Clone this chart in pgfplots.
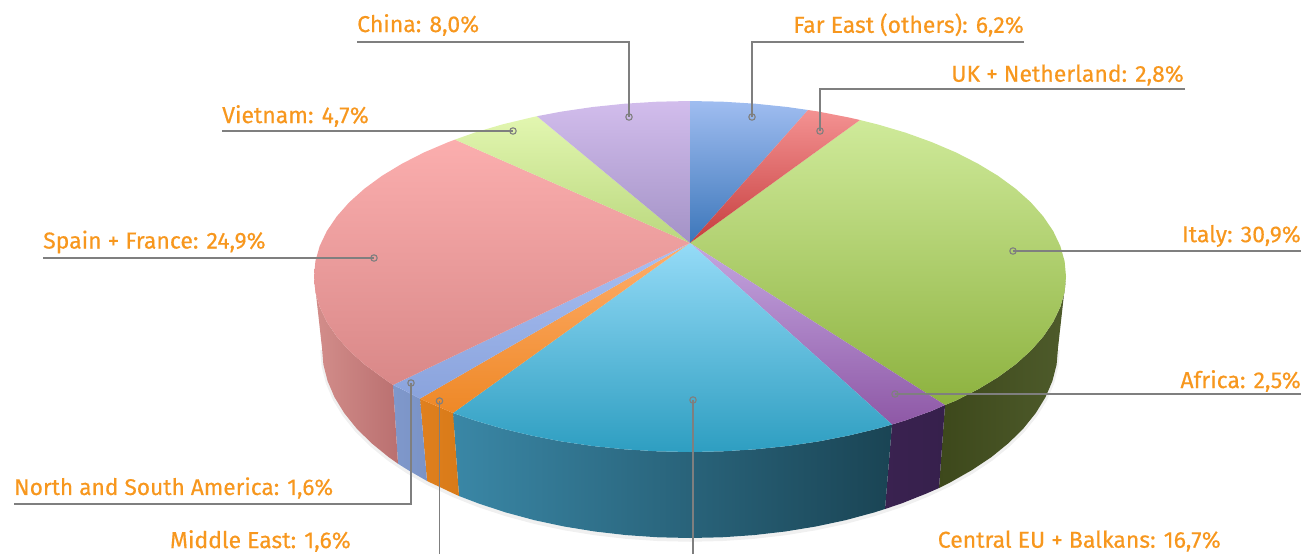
\documentclass[border=0pt]{standalone}
\usepackage{fontspec}
\setmainfont[FakeBold=0.4]{Fira Sans}
\usepackage{pgfplots}
\pgfplotsset{compat=1.18}
\definecolor{labelc}{HTML}{F7971E}
\definecolor{leadc}{HTML}{7F7F7F}
% top faces: a = upper, b = lower
\definecolor{italya}{HTML}{CFEA9A}\definecolor{italyb}{HTML}{8DB23F}
\definecolor{africaa}{HTML}{C4A6E0}\definecolor{africab}{HTML}{8E58A6}
\definecolor{centrala}{HTML}{95DBF7}\definecolor{centralb}{HTML}{2E9EC1}
\definecolor{easta}{HTML}{FFAE6C}\definecolor{eastb}{HTML}{EE8826}
\definecolor{amera}{HTML}{A8BFF2}\definecolor{amerb}{HTML}{8AA3DC}
\definecolor{spaina}{HTML}{FBAEAE}\definecolor{spainb}{HTML}{D98888}
\definecolor{vieta}{HTML}{E2F6B0}\definecolor{vietb}{HTML}{BAD87E}
\definecolor{chinaa}{HTML}{D2BDEC}\definecolor{chinab}{HTML}{A392C6}
\definecolor{fara}{HTML}{9FBDF0}\definecolor{farb}{HTML}{3C76BA}
\definecolor{uka}{HTML}{F49292}\definecolor{ukb}{HTML}{C63E3E}
% side faces
\definecolor{italyl}{HTML}{3D481B}\definecolor{italyr}{HTML}{4E5B2B}
\definecolor{africal}{HTML}{3A2250}\definecolor{africar}{HTML}{36204C}
\definecolor{centrall}{HTML}{3A87A6}\definecolor{centralm}{HTML}{236680}\definecolor{centralr}{HTML}{1A4454}
\definecolor{spainl}{HTML}{D38E8B}\definecolor{spainr}{HTML}{BA7070}
\definecolor{eastl}{HTML}{E0801E}\definecolor{eastr}{HTML}{D87A18}
\definecolor{amerl}{HTML}{7F98CB}\definecolor{amerr}{HTML}{7B93C6}
\tikzset{
    lab/.style={text=labelc, inner sep=0pt, font=\fontsize{23}{26}\selectfont},
}
\pgfplotsset{
    lead/.style={leadc, line width=1.2pt, no markers},
    dot/.style={only marks, mark=o, mark size=3.2pt, mark options={draw=leadc, line width=1.1pt}},
}
\begin{document}
\begin{tikzpicture}
\begin{axis}[
    width=1304pt, height=554pt, scale only axis,
    xmin=0, xmax=1304, ymin=0, ymax=554,
    y dir=reverse,
    hide axis, clip=false,
]
% keeps the page as large as the axis
\path (axis cs:0,0) rectangle (axis cs:1304,554);
% soft shadow under the rim
\addplot[black, opacity=0.06, line width=3.5pt, no markers] coordinates {
    (322,350) (323.4,366.6) (327.6,383) (334.5,399.2) (344.2,415) (356.5,430.3) (371.3,445) (388.5,459) (408.1,472.1)
    (427,483) (453.5,495.5) (478.9,505.6) (506,514.5) (534.5,522.2) (564.1,528.5) (594.8,533.5) (626.1,537.1) (657.9,539.3)
    (690,540) (722.1,539.3) (753.9,537.1) (785.2,533.5) (815.9,528.5) (845.5,522.2) (874,514.5) (901.1,505.6) (926.5,495.5)
    (950.2,484.4) (971.9,472.1) (991.5,459) (1008.7,445) (1023.5,430.3) (1035.8,415) (1045.5,399.2) (1052.4,383) (1056.6,366.6) (1058,350)
};
% side faces
\addplot[draw=none, left color=italyl, right color=italyr] coordinates {
    (1066,276.5) (1064.6,291.8) (1060.3,307) (1053.2,321.9) (1043.3,336.5) (1030.8,350.7) (1015.6,364.3) (998,377.2) (978,389.3) (955.9,400.6) (945,405)
    (939,488) (950.2,482.4) (971.9,470.1) (991.5,457) (1008.7,443) (1023.5,428.3) (1035.8,413) (1045.5,397.2) (1052.4,381) (1056.6,364.6) (1058,348)
} --cycle;
\addplot[draw=none, left color=africal, right color=africar] coordinates {
    (945,405) (931.7,410.9) (905.7,420.3) (892,424.5)
    (885,509) (901.1,503.6) (926.5,493.5) (939,488)
} --cycle;
\addplot[draw=none, left color=centrall, middle color=centralm, right color=centralr] coordinates {
    (892,424.5) (878,428.5) (848.9,435.5) (818.6,441.4) (787.3,446) (755.3,449.3) (722.8,451.3) (690,452) (657.2,451.3) (624.7,449.3) (592.7,446) (561.4,441.4) (531.1,435.5) (502,428.5) (474.3,420.3) (453,413)
    (459,496) (478.9,503.6) (506,512.5) (534.5,520.2) (564.1,526.5) (594.8,531.5) (626.1,535.1) (657.9,537.3) (690,538) (722.1,537.3) (753.9,535.1) (785.2,531.5) (815.9,526.5) (845.5,520.2) (874,512.5) (885,509)
} --cycle;
\addplot[draw=none, left color=eastl, right color=eastr] coordinates {
    (453,413) (448.3,411) (424.1,400.6) (420,398.6)
    (427,481) (453.5,493.5) (459,496)
} --cycle;
\addplot[draw=none, left color=amerl, right color=amerr] coordinates {
    (420,398.6) (402,389.3) (393,385)
    (398,463.7) (408.1,470.1) (427,481)
} --cycle;
\addplot[draw=none, left color=spainl, right color=spainr] coordinates {
    (393,385) (382,377.2) (364.4,364.3) (349.2,350.7) (336.7,336.5) (326.8,321.9) (319.7,307) (315.4,291.8) (314,276.5)
    (322,348) (323.4,364.6) (327.6,381) (334.5,397.2) (344.2,413) (356.5,428.3) (371.3,443) (388.5,457) (398,463.7)
} --cycle;
% top faces
% Italy
\addplot[draw=none, top color=italya, bottom color=italyb] coordinates {
    (690,243) (860,120) (878,124.5) (905.7,132.7) (931.7,142.1) (955.9,152.4) (978,163.7) (998,175.8) (1015.6,188.7) (1030.8,202.3) (1043.3,216.5) (1053.2,231.1) (1060.3,246) (1064.6,261.2)
    (1066,276.5) (1064.6,291.8) (1060.3,307) (1053.2,321.9) (1043.3,336.5) (1030.8,350.7) (1015.6,364.3) (998,377.2) (978,389.3) (955.9,400.6) (945,405)
} --cycle;
% Africa
\addplot[draw=none, top color=africaa, bottom color=africab] coordinates {
    (690,243) (945,405) (931.7,410.9) (905.7,420.3) (892,424.5)
} --cycle;
% Central EU + Balkans
\addplot[draw=none, top color=centrala, bottom color=centralb] coordinates {
    (690,243) (892,424.5) (878,428.5) (848.9,435.5) (818.6,441.4) (787.3,446) (755.3,449.3) (722.8,451.3) (690,452) (657.2,451.3) (624.7,449.3) (592.7,446) (561.4,441.4) (531.1,435.5) (502,428.5) (474.3,420.3) (453,413)
} --cycle;
% Middle East
\addplot[draw=none, top color=easta, bottom color=eastb] coordinates {
    (690,243) (453,413) (448.3,411) (424.1,400.6) (420,398.6)
} --cycle;
% North and South America
\addplot[draw=none, top color=amera, bottom color=amerb] coordinates {
    (690,243) (420,398.6) (402,389.3) (393,385)
} --cycle;
% Spain + France
\addplot[draw=none, top color=spaina, bottom color=spainb] coordinates {
    (690,243) (393,385) (382,377.2) (364.4,364.3) (349.2,350.7) (336.7,336.5) (326.8,321.9) (319.7,307) (315.4,291.8) (314,276.5)
    (315.4,261.2) (319.7,246) (326.8,231.1) (336.7,216.5) (349.2,202.3) (364.4,188.7) (382,175.8) (402,163.7) (424.1,152.4) (448.3,142.1) (455,139.6)
} --cycle;
% Vietnam
\addplot[draw=none, top color=vieta, bottom color=vietb] coordinates {
    (690,243) (455,139.6) (474.3,132.7) (502,124.5) (531.1,117.5) (537,116.2)
} --cycle;
% China
\addplot[draw=none, top color=chinaa, bottom color=chinab] coordinates {
    (690,243) (537,116.2) (561.4,111.6) (592.7,107) (624.7,103.7) (657.2,101.7) (690,101)
} --cycle;
% Far East
\addplot[draw=none, top color=fara, bottom color=farb] coordinates {
    (690,243) (690,101) (722.8,101.7) (755.3,103.7) (787.3,107) (808,110)
} --cycle;
% UK + Netherland
\addplot[draw=none, top color=uka, bottom color=ukb] coordinates {
    (690,243) (808,110) (818.6,111.6) (848.9,117.5) (860,120)
} --cycle;
% leader lines
\addplot[lead] coordinates {(357,42) (629,42) (629,117)};
\addplot[lead] coordinates {(1024,42) (752,42) (752,117)};
\addplot[lead] coordinates {(1185,89) (820,89) (820,131)};
\addplot[lead] coordinates {(222,131) (513,131)};
\addplot[lead] coordinates {(43,258) (374,258)};
\addplot[lead] coordinates {(1301,251) (1013,251)};
\addplot[lead] coordinates {(1301,394) (895,394)};
\addplot[lead] coordinates {(693,554) (693,400)};
\addplot[lead] coordinates {(439.5,554) (439.5,401)};
\addplot[lead] coordinates {(14,504) (411,504) (411,383)};
\addplot[dot] coordinates {
    (629,117) (752,117) (820,131) (513,131) (374,258) (1013,251) (895,394) (693,400) (439.5,401) (411,383)
};
% labels
\node[lab, anchor=west] at (axis cs:357,25) {China: 8,0\%};
\node[lab, anchor=east] at (axis cs:1024,25) {Far East (others): 6,2\%};
\node[lab, anchor=east] at (axis cs:1184,75) {UK + Netherland: 2,8\%};
\node[lab, anchor=west] at (axis cs:222,116) {Vietnam: 4,7\%};
\node[lab, anchor=west] at (axis cs:43,242) {Spain + France: 24,9\%};
\node[lab, anchor=east] at (axis cs:1301,236) {Italy: 30,9\%};
\node[lab, anchor=east] at (axis cs:1301,381) {Africa: 2,5\%};
\node[lab, anchor=west, font=\fontsize{22.7}{26}\selectfont] at (axis cs:14,488) {North and South America: 1,6\%};
\node[lab, anchor=east] at (axis cs:351,541) {Middle East: 1,6\%};
\node[lab, anchor=east] at (axis cs:1221,541) {Central EU + Balkans: 16,7\%};
\end{axis}
\end{tikzpicture}
\end{document}
